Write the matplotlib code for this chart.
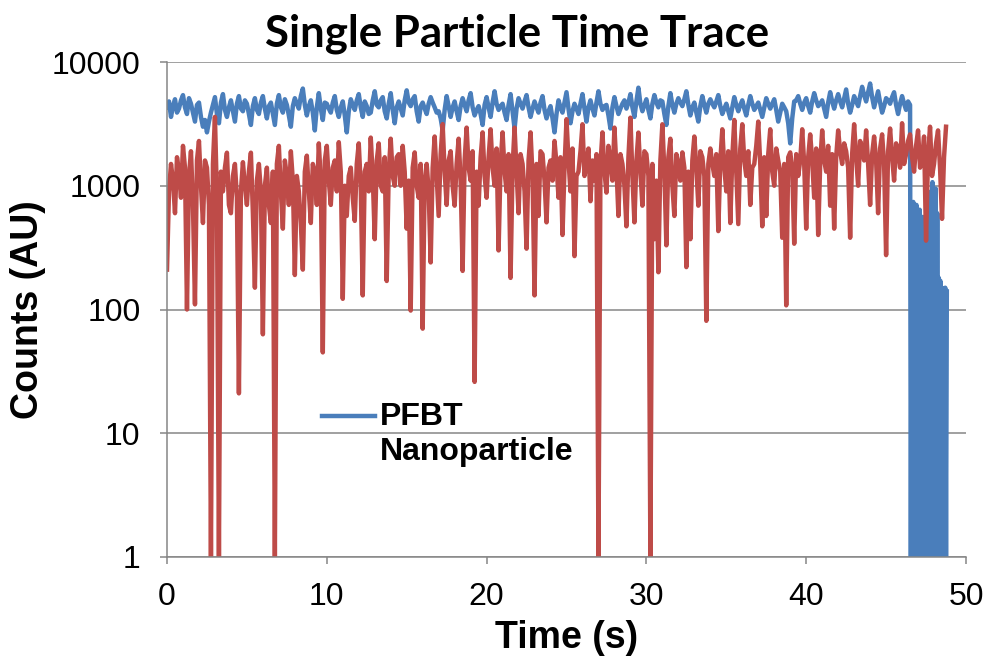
import numpy as np
import matplotlib
matplotlib.use('Agg')
import matplotlib.pyplot as plt
from matplotlib.legend_handler import HandlerLine2D

# counts, one value every 0.125 s
dt = 0.125
red_counts = [
    210, 900, 1500, 1100, 600, 1700, 1300, 800, 2100, 1400, 100, 1200, 1900, 700, 110, 1600,
    2300, 1000, 500, 1600, 1400, 700, 1, 1500, 3600, 800, 1, 1300, 900, 1400, 1850, 700,
    600, 1200, 1500, 800, 21, 900, 1550, 1000, 700, 1300, 1850, 600, 150, 1100, 1500, 900,
    63, 1000, 1400, 700, 500, 1300, 1, 1500, 2100, 900, 450, 1600, 1200, 700, 1900, 1100,
    190, 1200, 900, 500, 210, 1300, 1750, 900, 500, 1500, 1300, 700, 2200, 1100, 45, 1600,
    2100, 1100, 700, 1400, 1600, 900, 2250, 1300, 122, 1000, 570, 1200, 1400, 800, 520, 1500,
    2200, 1000, 130, 1300, 1500, 900, 2450, 1200, 370, 1600, 2200, 1000, 900, 1700, 170, 1300,
    2400, 1200, 1000, 1700, 1800, 1000, 2100, 1300, 450, 1100, 98, 1400, 1860, 1000, 800, 1500,
    70, 1100, 1500, 900, 240, 1400, 2500, 1200, 570, 1800, 3150, 1300, 700, 1600, 1900, 1000,
    690, 1500, 2400, 1100, 205, 1600, 2950, 1400, 1100, 1900, 26, 1300, 690, 1700, 2700, 1200,
    800, 1700, 2860, 1400, 1000, 2000, 300, 1500, 2700, 1300, 900, 1800, 180, 1400, 2950, 1300,
    600, 1800, 1500, 900, 310, 1600, 2700, 1200, 130, 1500, 570, 1900, 1800, 1100, 506, 1400,
    1600, 1100, 2300, 1500, 800, 1700, 400, 1400, 3450, 1600, 900, 2000, 270, 1200, 1300, 1900,
    3140, 1200, 1500, 2000, 750, 1600, 1100, 1800, 1, 1500, 2700, 1300, 880, 2100, 1600, 1100,
    2950, 1400, 570, 1800, 1500, 1000, 470, 1700, 3550, 1200, 506, 1600, 2690, 1300, 690, 1900,
    1800, 1200, 1, 1500, 370, 1100, 200, 1600, 3140, 1300, 330, 1700, 2400, 1000, 570, 1800,
    1500, 1100, 1860, 1400, 220, 1300, 370, 1600, 2500, 1400, 690, 1900, 1700, 1200, 81, 1500,
    2000, 1500, 1200, 1800, 430, 1600, 2860, 1400, 900, 1900, 500, 1700, 3400, 1300, 490, 2000,
    3140, 1600, 1200, 1900, 700, 1400, 1500, 2100, 3300, 1500, 470, 1700, 570, 1800, 2860, 1300,
    1000, 2000, 1600, 1300, 380, 1500, 108, 1700, 1860, 1400, 340, 1800, 1200, 1600, 2860, 1500,
    450, 1700, 2600, 1600, 800, 2000, 400, 1500, 2800, 1600, 1300, 2100, 690, 1800, 450, 1700,
    2800, 1900, 1500, 2200, 1900, 1400, 380, 1800, 3140, 1700, 1000, 2300, 2000, 1600, 2800, 1500,
    700, 1800, 2500, 1600, 600, 2000, 2600, 1500, 275, 1900, 2900, 1700, 1100, 2200, 1900, 1400,
    3200, 1500, 1800, 2300, 2600, 1700, 1300, 2100, 2800, 1400, 1600, 2500, 360, 1800, 3000, 1200,
    1500, 2200, 2800, 1400, 540, 1700, 3000,
]
blue_counts = [
    4300, 4800, 3600, 4400, 5000, 3900, 4200, 4900, 5400, 4300, 3800, 5100, 4600, 3900, 3300, 4500,
    4700, 3600, 3000, 3400, 2700, 3300, 3900, 4500, 5200, 3800, 3200, 4700, 5500, 4100, 3600, 4300,
    4900, 4000, 3300, 4600, 5300, 4200, 4000, 4900, 4600, 3800, 3100, 4400, 5100, 4100, 3800, 4700,
    5300, 4200, 3500, 4400, 4700, 3800, 3100, 4600, 5400, 4300, 3900, 5000, 4500, 3700, 3000, 4400,
    5100, 4600, 4200, 5300, 6100, 4500, 3700, 4400, 4900, 3900, 2800, 4300, 5600, 4200, 3400, 4700,
    4600, 4200, 3900, 4700, 5300, 4100, 3600, 4300, 4800, 3700, 2700, 4000, 5000, 4500, 4100, 4900,
    5500, 4300, 3600, 4800, 4400, 3800, 3900, 4900, 5800, 4500, 4300, 4900, 5200, 4000, 3500, 4600,
    5600, 4100, 3200, 4300, 4800, 4200, 3700, 4900, 5900, 4700, 4400, 5000, 5300, 4000, 3300, 4400,
    4700, 4200, 3800, 4600, 5200, 4700, 4300, 3900, 4000, 3500, 2800, 4100, 5300, 4400, 3600, 4300,
    4800, 4000, 3400, 4400, 5100, 4500, 4000, 4900, 5600, 4300, 3700, 4100, 4400, 3800, 3100, 4500,
    5200, 4300, 3600, 4700, 5800, 4600, 4100, 4400, 4600, 3900, 3400, 4500, 5500, 4000, 2900, 4200,
    5100, 4600, 4200, 4800, 5400, 4300, 3600, 4200, 4800, 4300, 3900, 4700, 5300, 4100, 3500, 4000,
    4400, 3500, 2700, 3800, 4900, 4300, 3900, 4700, 5700, 4200, 3200, 4000, 4600, 4200, 3800, 4600,
    5500, 4200, 3300, 4300, 4900, 4200, 3700, 4700, 5800, 4600, 4100, 4400, 4500, 3700, 2900, 4300,
    5200, 4400, 3800, 4200, 4600, 4900, 4200, 4700, 5500, 4300, 3600, 4800, 6200, 4600, 4000, 4500,
    5000, 4100, 3500, 4600, 5400, 4700, 4300, 4900, 4800, 3800, 3100, 4400, 5600, 4500, 3900, 4600,
    5100, 4700, 4400, 5000, 5800, 4500, 3700, 4300, 4700, 3900, 3300, 4400, 5300, 4500, 3900, 4600,
    5000, 4600, 4300, 4800, 5400, 4400, 3800, 4200, 4600, 4000, 3500, 4300, 5200, 4500, 4000, 4500,
    4900, 4200, 3700, 4500, 5300, 4600, 4100, 4400, 4700, 4100, 3600, 4300, 5100, 4600, 4200, 4600,
    5000, 4100, 3300, 3900, 4600, 4300, 4000, 3200, 2200, 3500, 4800, 4900, 5300, 4600, 4100, 4700,
    5100, 4400, 3900, 4800, 5600, 4900, 4400, 4600, 4900, 4200, 3600, 4700, 5700, 4800, 4200, 4900,
    5500, 4800, 4300, 5100, 6000, 4600, 3900, 4500, 5300, 4800, 4400, 5300, 6300, 5400, 4800, 5700,
    6700, 5200, 4300, 5000, 5800, 4700, 3900, 4400, 5100, 4900, 4600, 5200, 5700, 4500, 3800, 4600,
    5300, 4600, 4100, 4800, 4500,
]
# blinking tail of the blue trace after 46.5 s, every 0.05 s
tail_dt = 0.05
blue_tail = [
    1, 650, 1, 740, 1, 600, 1, 700, 1, 500,
    1, 640, 1, 450, 1, 560, 1, 380, 1, 520,
    1, 420, 1, 600, 1, 900, 1, 1070, 1, 800,
    1, 950, 1, 600, 1, 180, 1, 170, 1, 150,
    1, 140, 1, 150, 1, 140,
]
y_ticks = [1, 10, 100, 1000, 10000]
x_ticks = [0, 10, 20, 30, 40, 50]

t_red = np.arange(len(red_counts)) * dt
t_blue = np.arange(len(blue_counts)) * dt
t_blue = np.concatenate([t_blue, t_blue[-1] + np.arange(1, len(blue_tail) + 1) * tail_dt])
blue_all = np.array(blue_counts + blue_tail, dtype=float)

plt.rcParams['font.family'] = 'Liberation Sans'
grey = '#868686'

fig = plt.figure(figsize=(9.86, 6.6), dpi=100)
ax = fig.add_axes([167/986, 1 - 557/660, (966-167)/986, (557-62)/660])

ax.plot(t_blue, blue_all, color='#4A7EBB', lw=3.2, label='PFBT\nNanoparticle')
ax.plot(t_red, red_counts, color='#BE4B48', lw=3.2)

ax.set_yscale('log')
ax.set_ylim(1, 10000)
ax.set_xlim(0, 50)
ax.set_yticks(y_ticks, [str(v) for v in y_ticks])
ax.yaxis.set_minor_locator(matplotlib.ticker.NullLocator())
ax.set_xticks(x_ticks, [str(v) for v in x_ticks])
ax.tick_params(labelsize=23, colors=grey, labelcolor='black', length=5, width=1.1)
ax.tick_params(axis='y', pad=14)
ax.tick_params(axis='x', pad=13)
ax.grid(axis='y', color=grey, lw=1.1)
ax.set_axisbelow(True)
for s in ['top', 'right']:
    ax.spines[s].set_visible(False)
for s in ['left', 'bottom']:
    ax.spines[s].set_color(grey)
    ax.spines[s].set_linewidth(1.1)

ax.set_xlabel('Time (s)', fontsize=27, fontweight='bold', labelpad=6)
ax.set_ylabel('Counts (AU)', fontsize=27, fontweight='bold', labelpad=4)

fig.text(0.524, 0.93, 'Single Particle Time Trace', ha='center', va='baseline',
         fontsize=31.5, fontweight='bold', family='Lato')


class TopLine(HandlerLine2D):
    # put the legend line next to the first text line
    def create_artists(self, legend, orig_handle, xdescent, ydescent, width, height, fontsize, trans):
        arts = super().create_artists(legend, orig_handle, xdescent, ydescent, width, height, fontsize, trans)
        for a in arts:
            a.set_ydata(np.asarray(a.get_ydata()) + 0.57 * fontsize)
        return arts


leg = fig.legend(loc='upper left', bbox_to_anchor=(322/986, 1 - 402/660), frameon=False,
                 prop={'size': 23, 'weight': 'bold'}, handlelength=1.66, handletextpad=0.16,
                 borderpad=0, borderaxespad=0, handler_map={plt.Line2D: TopLine()})

fig.savefig('out.png', dpi=100)
